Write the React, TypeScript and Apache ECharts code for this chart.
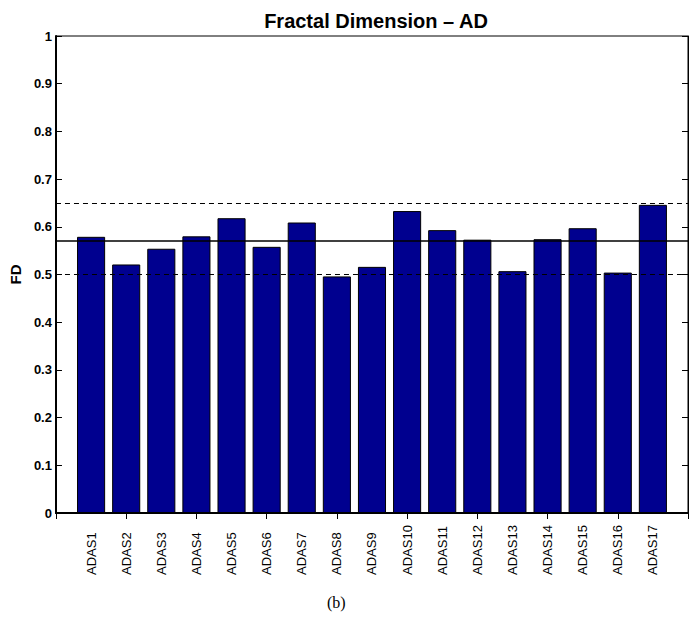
import React, { useEffect, useRef } from "react";
import * as echarts from "echarts";

const categories = [
  "ADAS1", "ADAS2", "ADAS3", "ADAS4", "ADAS5", "ADAS6", "ADAS7", "ADAS8", "ADAS9",
  "ADAS10", "ADAS11", "ADAS12", "ADAS13", "ADAS14", "ADAS15", "ADAS16", "ADAS17",
];
const fdValues = [
  0.579, 0.521, 0.554, 0.58, 0.618, 0.558, 0.609, 0.496, 0.516,
  0.633, 0.593, 0.573, 0.507, 0.574, 0.597, 0.504, 0.646,
];
const meanLine = 0.5675;
const upperLine = 0.648;
const lowerLine = 0.497;
const yTicks = { min: 0, max: 1, interval: 0.1 };

export default function App() {
  const ref = useRef<HTMLDivElement>(null);
  useEffect(() => {
    if (!ref.current) return;
    const chart = echarts.init(ref.current, undefined, { renderer: "svg" });
    const cats = ["", ...categories, ""];
    const data: any[] = ["-", ...fdValues, "-"];
    const font = "Liberation Sans, Arial, Helvetica, sans-serif";
    chart.setOption({
      animation: false,
      backgroundColor: "#ffffff",
      title: {
        text: "Fractal Dimension \u2013 AD",
        left: 371,
        textAlign: "center",
        top: 6,
        textStyle: { fontFamily: font, fontWeight: "bold", fontSize: 20, color: "#000" },
      },
      grid: {
        left: 55,
        right: 11,
        top: 36,
        bottom: 108,
        show: true,
        borderColor: "#000",
        borderWidth: 1,
        backgroundColor: "transparent",
      },
      graphic: [
        {
          type: "text",
          left: 327,
          top: 594,
          style: { text: "(b)", font: "16px 'Liberation Serif', 'Times New Roman', serif", fill: "#000" },
        },
      ],
      xAxis: [
        {
          type: "category",
          data: cats,
          boundaryGap: false,
          axisLine: { show: true, lineStyle: { color: "#000", width: 2 } },
          axisTick: { show: true, inside: true, length: 6, alignWithLabel: true, lineStyle: { color: "#000" } },
          axisLabel: {
            rotate: 90,
            interval: 0,
            margin: 62,
            align: "left",
            fontFamily: font,
            fontSize: 13,
            color: "#000",
          },
          splitLine: { show: false },
        },
        {
          type: "category",
          data: cats,
          position: "top",
          boundaryGap: false,
          axisLine: { show: true, lineStyle: { color: "#000", width: 1 } },
          axisTick: { show: true, inside: true, length: 6, lineStyle: { color: "#000" } },
          axisLabel: { show: false },
          splitLine: { show: false },
        },
      ],
      yAxis: [
        {
          type: "value",
          min: yTicks.min,
          max: yTicks.max,
          interval: yTicks.interval,
          name: "FD",
          nameLocation: "middle",
          nameGap: 26,
          nameTextStyle: { fontFamily: font, fontWeight: "bold", fontSize: 15, color: "#000" },
          axisLine: { show: true, lineStyle: { color: "#000", width: 2 } },
          axisTick: { show: true, inside: true, length: 6, lineStyle: { color: "#000" } },
          axisLabel: { fontFamily: font, fontWeight: "bold", fontSize: 13, color: "#000", margin: 4 },
          splitLine: { show: false },
        },
        {
          type: "value",
          min: yTicks.min,
          max: yTicks.max,
          interval: yTicks.interval,
          position: "right",
          axisLine: { show: true, lineStyle: { color: "#000", width: 1 } },
          axisTick: { show: true, inside: true, length: 6, lineStyle: { color: "#000" } },
          axisLabel: { show: false },
          splitLine: { show: false },
        },
      ],
      series: [
        {
          type: "bar",
          data,
          barWidth: "80%",
          itemStyle: { color: "#00008f", borderColor: "#000", borderWidth: 1 },
          markLine: {
            silent: true,
            symbol: "none",
            label: { show: false },
            data: [
              { yAxis: meanLine, lineStyle: { color: "#000", type: "solid", width: 1.5 } },
              { yAxis: upperLine, lineStyle: { color: "#000", type: [5, 4], width: 1 } },
              { yAxis: lowerLine, lineStyle: { color: "#000", type: [5, 4], width: 1 } },
            ],
          },
        },
      ],
    });
    return () => chart.dispose();
  }, []);
  return <div ref={ref} style={{ width: 699, height: 621, position: "absolute", left: 0, top: 0 }} />;
}
